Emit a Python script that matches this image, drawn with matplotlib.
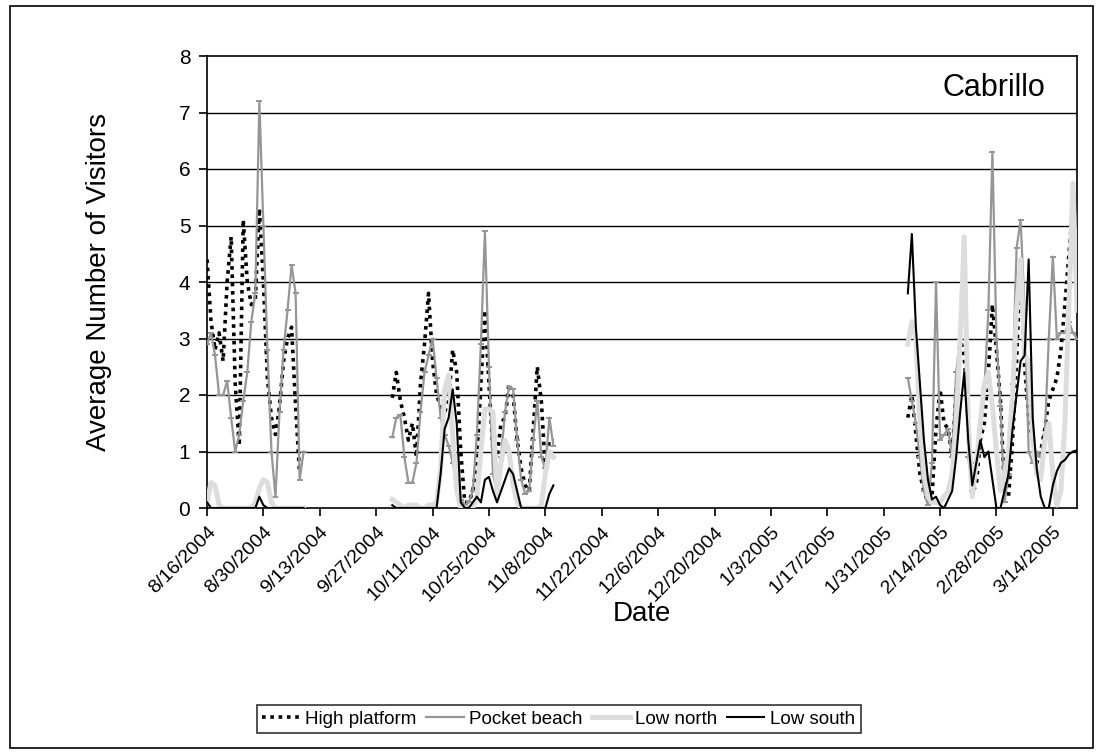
import numpy as np
import pandas as pd
import matplotlib
matplotlib.use('Agg')
import matplotlib.pyplot as plt
from matplotlib.patches import Rectangle

nan = np.nan

# three observation periods (daily averages)
start_a = '2004-08-16'
start_b = '2004-10-01'
start_c = '2005-02-06'

high_a = [4.4, 3.3, 2.8, 3.1, 2.6, 4.0, 4.8, 2.2, 1.1, 5.1, 4.0, 3.6, 3.7,
          5.3, 4.0, 2.3, 1.6, 1.3, 1.8, 2.6, 3.0, 3.2, 1.8, 0.6, nan]
pocket_a = [2.9, 3.1, 2.7, 2.0, 2.0, 2.25, 1.6, 1.0, 1.3, 1.9, 2.4, 3.3, 3.8,
            7.2, 5.0, 2.8, 1.0, 0.2, 1.7, 2.8, 3.5, 4.3, 3.8, 0.5, 1.0]
north_a = [0.1, 0.45, 0.4, 0.05, 0, 0, 0, 0, 0, 0, 0, 0, 0.1,
           0.35, 0.5, 0.45, 0.1, 0, 0, 0, 0, 0, 0, 0, 0]
south_a = [0.1, 0, 0, 0, 0, 0, 0, 0, 0, 0, 0, 0, 0,
           0.2, 0.05, 0, 0, 0, 0, 0, 0, 0, 0, 0, 0]

high_b = [1.95, 2.4, 1.9, 1.6, 1.2, 1.5, 0.9, 2.2, 2.9, 3.8, 2.6, 2.0, 1.8,
          1.7, 1.9, 2.8, 2.4, 1.0, 0.1, 0.1, 0.3, 0.8, 2.2, 3.5, 2.2, 1.0,
          0.9, 1.5, 1.6, 2.2, 2.0, 1.2, 0.7, 0.4, 0.3, 1.4, 2.5, 1.9, 0.7,
          1.2, 1.2]
pocket_b = [1.25, 1.6, 1.65, 0.9, 0.45, 0.45, 0.8, 1.7, 2.4, 2.7, 3.0, 2.3,
            1.6, 1.3, 1.1, 0.8, 0.5, 0.15, 0.05, 0.1, 0.3, 1.3, 2.9, 4.9, 2.5,
            0.6, 0.3, 0.9, 1.7, 2.15, 2.1, 1.2, 0.5, 0.25, 0.3, 1.2, 1.9, 0.9,
            0.7, 1.6, 1.1]
north_b = [0.15, 0.1, 0.05, 0, 0.05, 0.05, 0.05, 0, 0, 0.05, 0.05, 0.1, 0.7,
           2.1, 2.35, 1.3, 0.3, 0, 0, 0, 0, 0.2, 1.0, 1.75, 1.75, 1.7, 0.2,
           0.8, 1.2, 1.0, 0.4, 0.1, 0, 0, 0, 0, 0, 0.05, 0.6, 1.0, 0.9]
south_b = [0.05, 0, 0, 0, 0, 0, 0, 0, 0, 0, 0, 0, 0.6, 1.4, 1.6, 2.1, 1.5,
           0.1, 0, 0, 0.1, 0.2, 0.1, 0.5, 0.55, 0.3, 0.1, 0.3, 0.5, 0.7, 0.6,
           0.3, 0, 0, 0, 0, 0, 0, 0, 0.25, 0.4]

high_c = [1.6, 2.0, 1.3, 0.6, 0.3, 0.1, 0.2, 1.4, 2.1, 1.5, 1.4, 0.9, 2.1,
          3.0, 2.7, 1.5, 0.3, 0.4, 1.2, 1.5, 2.4, 3.6, 2.8, 1.9, 0.3, 0.2,
          1.2, 2.6, 4.4, 2.5, 1.6, 1.2, 0.8, 1.0, 1.4, 1.9, 2.1, 2.3, 2.8,
          3.6, 4.5, 5.35, 5.3]
pocket_c = [2.3, 1.9, 1.5, 0.9, 0.3, 0.05, 0.8, 4.0, 1.2, 1.3, 1.4, 0.9, 2.4,
            3.0, 4.5, 0.9, 0.3, 0.8, 1.4, 2.1, 3.5, 6.3, 3.0, 1.8, 0.1, 0.6,
            2.2, 4.6, 5.1, 3.5, 1.0, 0.8, 1.0, 0.9, 1.3, 3.0, 4.45, 3.0, 3.1,
            3.1, 3.3, 3.1, 3.0]
north_c = [2.9, 3.3, 3.0, 1.5, 0.6, 0.2, 0.1, 0.1, 0.1, 0.2, 0.3, 0.6, 1.5,
           3.0, 4.8, 1.5, 0.2, 0.8, 1.5, 2.2, 2.4, 1.8, 1.0, 0.3, 0.6, 1.0,
           2.0, 3.5, 4.4, 2.7, 2.6, 1.2, 0.6, 0.5, 1.2, 1.5, 0.6, 0.05, 0.3,
           1.5, 3.6, 5.75, 3.5]
south_c = [3.8, 4.85, 3.2, 2.2, 1.2, 0.5, 0.15, 0.2, 0.05, 0, 0.15, 0.3, 0.9,
           1.7, 2.4, 1.2, 0.4, 0.8, 1.2, 0.9, 1.0, 0.5, 0, 0, 0.3, 0.6, 1.4,
           2.0, 2.6, 2.7, 4.4, 1.6, 0.7, 0.2, 0, 0, 0.4, 0.65, 0.8, 0.85, 0.95,
           1.0, 1.02]

series_names = ['High platform', 'Pocket beach', 'Low north', 'Low south']

tick_dates = pd.date_range('2004-08-16', '2005-03-14', freq='14D')
tick_labels = [f'{d.month}/{d.day}/{d.year}' for d in tick_dates]


def join_periods(a, b, c):
    """Put the three periods on one daily axis, NaN in the gaps."""
    parts = []
    for start, vals in ((start_a, a), (start_b, b), (start_c, c)):
        idx = pd.date_range(start, periods=len(vals), freq='D')
        parts.append(pd.Series(vals, index=idx, dtype=float))
    s = pd.concat(parts)
    full = pd.date_range(s.index[0], s.index[-1], freq='D')
    return s.reindex(full)


high = join_periods(high_a, high_b, high_c)
pocket = join_periods(pocket_a, pocket_b, pocket_c)
north = join_periods(north_a, north_b, north_c)
south = join_periods(south_a, south_b, south_c)

plt.rcParams['font.family'] = ['Liberation Sans', 'DejaVu Sans']

fig = plt.figure(figsize=(11.02, 7.53), dpi=100)
ax = fig.add_axes([207 / 1102, 1 - 508 / 753, 870 / 1102, 452 / 753])

ax.plot(high.index, high.values, color='black', lw=2.6,
        linestyle=(0, (1, 1.3)), label=series_names[0], zorder=3)
ax.plot(pocket.index, pocket.values, color='#969696', lw=1.6,
        marker='_', ms=4, mew=1.4, label=series_names[1], zorder=4)
ax.plot(north.index, north.values, color='#dddddd', lw=3.6,
        label=series_names[2], zorder=5)
ax.plot(south.index, south.values, color='black', lw=1.5,
        label=series_names[3], zorder=6)

ax.set_ylim(0, 8)
ax.set_yticks(range(0, 9))
ax.set_xlim(high.index[0], high.index[-1])
ax.set_xticks(tick_dates)
ax.set_xticklabels(tick_labels, rotation=45, ha='right',
                   rotation_mode='anchor', fontsize=14)
ax.tick_params(axis='y', labelsize=15, direction='out', length=6, width=1.2,
               pad=6)
ax.tick_params(axis='x', direction='out', length=6, width=1.2, pad=5)

for v in range(1, 8):
    ax.axhline(v, color='black', lw=1.0, zorder=1)
for sp in ax.spines.values():
    sp.set_linewidth(1.2)

ax.set_ylabel('Average Number of Visitors', fontsize=20, labelpad=48)
ax.set_xlabel('Date', fontsize=20)
ax.xaxis.set_label_coords(0.5, (508 - 601) / 452)
ax.text(0.964, 0.929, 'Cabrillo', transform=ax.transAxes, fontsize=22,
        ha='right', va='center')

leg = fig.legend(loc='center', bbox_to_anchor=(0.507, 0.045), ncol=4,
                 fontsize=13.5, frameon=True, fancybox=False,
                 handlelength=2.0, columnspacing=0.5, handletextpad=0.3,
                 borderpad=0.3, borderaxespad=0)
leg.get_frame().set_edgecolor('black')
leg.get_frame().set_linewidth(1.2)

fig.patches.append(Rectangle((10 / 1102, 1 - 748 / 753), 1083 / 1102,
                             742 / 753, transform=fig.transFigure,
                             fill=False, edgecolor='black', lw=1.2))

fig.savefig('out.png', dpi=100)
